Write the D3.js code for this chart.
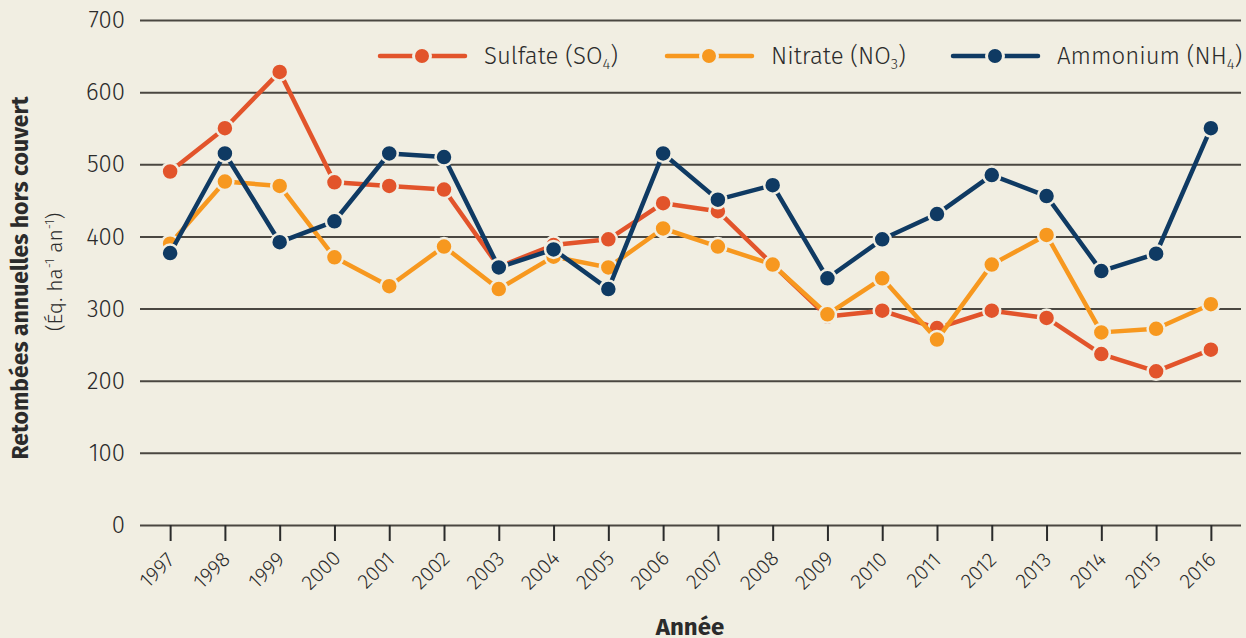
<!DOCTYPE html>
<html>
<head>
<meta charset="utf-8">
<script src="https://cdn.jsdelivr.net/npm/d3@7"></script>
<style>
  html, body { margin: 0; padding: 0; background: #f1eee2; }
  svg { display: block; }
  text { font-family: "Fira Sans", "Open Sans", sans-serif; fill: #2b2b2b; }
</style>
</head>
<body>
<svg id="chart"></svg>
<script>
const years = ["1997","1998","1999","2000","2001","2002","2003","2004","2005","2006",
               "2007","2008","2009","2010","2011","2012","2013","2014","2015","2016"];
const sulfate  = [490, 550, 628, 475, 470, 465, 358, 388, 396, 446, 435, 361, 289, 297, 273, 297, 287, 237, 213, 243];
const nitrate  = [390, 476, 470, 371, 331, 386, 327, 372, 357, 411, 386, 361, 292, 342, 257, 361, 402, 267, 272, 306];
const ammonium = [377, 515, 392, 421, 515, 510, 357, 382, 327, 515, 451, 471, 342, 396, 431, 485, 456, 352, 376, 550];
const yTicks = [0, 100, 200, 300, 400, 500, 600, 700];

const series = [
  { name: "Sulfate (SO", sub: "4", values: sulfate,  color: "#e2542b", lx: 380 },
  { name: "Nitrate (NO", sub: "3", values: nitrate,  color: "#f7981f", lx: 667 },
  { name: "Ammonium (NH", sub: "4", values: ammonium, color: "#0f3a63", lx: 953 }
];

const W = 1246, H = 638;
const bg = "#f1eee2";
const mLeft = 140, mRight = 1241, mTop = 20, mBottom = 525;
const font = '"Fira Sans", "Open Sans", sans-serif';

const svg = d3.select("#chart").attr("width", W).attr("height", H);
svg.append("rect").attr("width", W).attr("height", H).attr("fill", bg);

const x = d3.scalePoint().domain(years).range([mLeft, mRight]).padding(0.55);
const y = d3.scaleLinear().domain([0, 700]).range([mBottom, mTop]);

// gridlines + y labels
const yAxis = d3.axisLeft(y).tickValues(yTicks).tickSize(-(mRight - mLeft)).tickPadding(15);
const gy = svg.append("g").attr("transform", `translate(${mLeft},0)`).call(yAxis);
gy.select(".domain").remove();
gy.selectAll(".tick line").attr("stroke", "#4a4741").attr("stroke-width", 2);
gy.selectAll(".tick text")
  .attr("font-size", 24).attr("font-weight", 300)
  .style("font-family", font).attr("fill", "#2b2b2b");

// x axis
const xAxis = d3.axisBottom(x).tickSize(16).tickSizeOuter(0);
const gx = svg.append("g").attr("transform", `translate(0,${mBottom})`).call(xAxis);
gx.select(".domain").remove();
gx.selectAll(".tick line").attr("stroke", "#2b2b2b").attr("stroke-width", 2);
gx.selectAll(".tick text")
  .attr("font-size", 21).attr("font-weight", 300)
  .style("font-family", font).attr("fill", "#2b2b2b")
  .attr("text-anchor", "middle")
  .attr("y", 0).attr("dy", "0.35em")
  .attr("transform", "translate(-14,45) rotate(-45)");

// lines
const line = d3.line().x((d, i) => x(years[i])).y(d => y(d));
series.forEach(s => {
  svg.append("path")
    .datum(s.values)
    .attr("d", line)
    .attr("fill", "none")
    .attr("stroke", s.color)
    .attr("stroke-width", 4.5)
    .attr("stroke-linejoin", "round");
  svg.append("g").selectAll("circle")
    .data(s.values)
    .join("circle")
    .attr("cx", (d, i) => x(years[i]))
    .attr("cy", d => y(d))
    .attr("r", 8.5)
    .attr("fill", s.color)
    .attr("stroke", bg)
    .attr("stroke-width", 2.5);
});

// legend
const ly = 56;
series.forEach(s => {
  const g = svg.append("g");
  g.append("line").attr("x1", s.lx).attr("x2", s.lx + 85).attr("y1", ly).attr("y2", ly)
    .attr("stroke", s.color).attr("stroke-width", 4.5).attr("stroke-linecap", "round");
  g.append("circle").attr("cx", s.lx + 42).attr("cy", ly).attr("r", 8.5)
    .attr("fill", s.color).attr("stroke", bg).attr("stroke-width", 3);
  const t = g.append("text").attr("x", s.lx + 104).attr("y", ly + 8)
    .attr("font-size", 24).attr("font-weight", 300);
  t.append("tspan").text(s.name);
  t.append("tspan").attr("font-size", 15).attr("dy", 5).text(s.sub);
  t.append("tspan").attr("dy", -5).text(")");
});

// axis titles
svg.append("text")
  .attr("transform", "translate(28,278) rotate(-90)")
  .attr("text-anchor", "middle")
  .attr("font-size", 23).attr("font-weight", 700)
  .text("Retombées annuelles hors couvert");

const sub = svg.append("text")
  .attr("transform", "translate(62,272) rotate(-90)")
  .attr("text-anchor", "middle")
  .attr("font-size", 21).attr("font-weight", 300);
sub.append("tspan").text("(Éq. ha");
sub.append("tspan").attr("font-size", 13).attr("dy", -8).text("-1");
sub.append("tspan").attr("dy", 8).text(" an");
sub.append("tspan").attr("font-size", 13).attr("dy", -8).text("-1");
sub.append("tspan").attr("dy", 8).text(")");

svg.append("text")
  .attr("x", 690).attr("y", 635)
  .attr("text-anchor", "middle")
  .attr("font-size", 24).attr("font-weight", 700)
  .text("Année");
</script>
</body>
</html>
